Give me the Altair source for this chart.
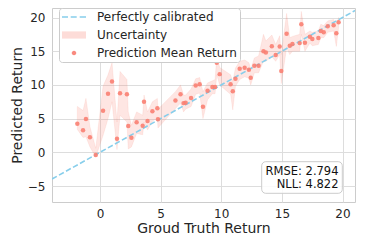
import altair as alt
import pandas as pd

# ---- data ----
truth = [-1.87, -1.40, -1.16, -0.83, -0.35, 0.25, 0.66, 0.99, 1.40, 1.65, 2.22, 2.33, 2.59,
         3.02, 3.52, 3.63, 3.92, 4.32, 4.73, 4.78, 6.22, 6.64, 6.89, 7.06, 7.51, 7.89, 8.22,
         8.49, 8.87, 9.27, 9.49, 9.63, 9.87, 10.77, 10.95, 11.17, 11.52, 11.93, 12.28, 12.43,
         12.73, 13.08, 13.48, 13.68, 14.17, 14.49, 14.82, 14.95, 15.39, 15.65, 15.87, 16.47,
         16.60, 16.90, 17.31, 17.51, 18.01, 18.21, 18.45, 18.78, 19.27, 19.49, 19.68]
pred_mean = [4.24, 3.26, 4.94, 2.22, -0.40, 6.17, 8.70, 10.50, 2.00, 8.75, 8.60, 3.90, 2.17,
             4.45, 3.95, 7.50, 4.64, 6.08, 6.53, 4.90, 7.70, 8.62, 7.30, 7.35, 8.06, 9.90, 10.10,
             6.77, 9.14, 9.70, 9.70, 13.30, 11.60, 10.10, 9.05, 10.90, 12.40, 12.55, 12.26, 11.07,
             12.85, 12.85, 15.00, 14.80, 15.73, 14.44, 15.70, 12.06, 17.60, 15.80, 16.07, 16.20,
             19.00, 16.26, 17.15, 16.80, 16.96, 18.00, 17.80, 18.70, 18.84, 17.65, 19.30]
pred_low = [3.4, 2.2, 2.3, 0.8, -0.7, 2.5, 5.0, 7.5, 0.4, 5.5, 4.5, 0.5, 0.8,
            2.8, 2.6, 4.5, 3.3, 4.6, 5.2, 3.6, 6.5, 7.3, 6.0, 6.4, 6.8, 8.6, 8.8,
            5.0, 7.8, 8.7, 8.7, 11.5, 10.0, 8.6, 6.3, 9.8, 10.8, 11.2, 11.0, 10.0,
            11.8, 11.8, 13.5, 13.5, 14.2, 13.5, 14.5, 10.2, 15.5, 14.5, 15.0, 15.0,
            17.5, 15.0, 16.2, 15.8, 16.0, 17.0, 17.0, 17.8, 18.0, 15.7, 18.5]
pred_high = [6.8, 6.2, 8.0, 3.8, 0.6, 9.8, 11.5, 13.3, 4.5, 12.0, 10.8, 6.0, 4.0,
             6.0, 5.5, 8.5, 6.0, 7.5, 8.0, 6.4, 9.0, 10.0, 8.5, 8.5, 9.4, 10.9, 11.1,
             9.0, 10.3, 10.6, 10.8, 14.2, 12.6, 11.5, 10.5, 12.5, 13.5, 13.7, 13.3, 12.3,
             14.0, 14.3, 17.5, 16.5, 17.4, 16.0, 17.3, 14.5, 20.6, 17.0, 17.2, 17.5,
             20.9, 17.5, 18.0, 17.8, 18.0, 19.0, 18.8, 19.5, 19.7, 19.0, 20.0]

x_domain = [-3.96, 21.03]
y_domain = [-7.37, 21.41]
x_ticks = [0, 5, 10, 15, 20]
y_ticks = [-5, 0, 5, 10, 15, 20]
line_ends = [-3.96, 21.03]

legend_labels = ["Perfectly calibrated", "Uncertainty", "Prediction Mean Return"]
metrics_text = ["RMSE: 2.794", "NLL: 4.822"]

SALMON = "#fa8072"
SKY = "#87ceeb"
FONT = "DejaVu Sans"
TXT = "#262626"

df = pd.DataFrame({"truth": truth, "pred": pred_mean, "lo": pred_low, "hi": pred_high})
line_df = pd.DataFrame({"v": line_ends})
leg_df = pd.DataFrame({"series": legend_labels})
met_df = pd.DataFrame({"txt": ["\n".join(metrics_text)]})

xs = alt.Scale(domain=x_domain, nice=False, zero=False)
ys = alt.Scale(domain=y_domain, nice=False, zero=False)

x_axis = alt.Axis(values=x_ticks, title="Groud Truth Return", labelOverlap=False,
                  labelExpr="replace(datum.label, '-', '−')")
y_axis = alt.Axis(values=y_ticks, title="Predicted Return", labelOverlap=False,
                  labelExpr="replace(datum.label, '-', '−')")

band = alt.Chart(df).mark_area(
    fill=SALMON, fillOpacity=0.2, stroke=SALMON, strokeOpacity=0.15, strokeWidth=0.8,
    interpolate="linear"
).encode(
    x=alt.X("truth:Q", scale=xs, axis=x_axis),
    y=alt.Y("lo:Q", scale=ys, axis=y_axis),
    y2="hi:Q",
)

diag = alt.Chart(line_df).mark_line(
    color=SKY, strokeWidth=1.6, strokeDash=[5.5, 2.5], clip=True
).encode(
    x=alt.X("v:Q", scale=xs, axis=x_axis),
    y=alt.Y("v:Q", scale=ys, axis=y_axis),
)

pts = alt.Chart(df).mark_point(
    filled=True, color=SALMON, opacity=0.9, size=20
).encode(
    x=alt.X("truth:Q", scale=xs, axis=x_axis),
    y=alt.Y("pred:Q", scale=ys, axis=y_axis),
)

shapes = [
    "M-1,-0.13H0V0.13H-1Z M0.45,-0.13H1.45V0.13H0.45Z M1.95,-0.13H3V0.13H1.95Z",
    "M-1,-0.6H3V0.6H-1Z",
    "M0.62,0A0.38,0.38 0 1,0 1.38,0A0.38,0.38 0 1,0 0.62,0Z",
]
leg_colors = [SKY, "#fddcd8", "#f98a7f"]

legend = alt.Legend(
    title=None, orient="none", legendX=7, legendY=0,
    padding=3, labelOffset=23, rowPadding=6,
    symbolSize=144, symbolStrokeWidth=0, symbolOpacity=1,
    labelFont=FONT, labelFontSize=12, labelColor=TXT,
    fillColor="white", strokeColor="#cccccc", cornerRadius=3,
)

dummy = alt.Chart(leg_df).mark_point(filled=True, opacity=0).encode(
    color=alt.Color("series:N", sort=legend_labels,
                    scale=alt.Scale(domain=legend_labels, range=leg_colors), legend=legend),
    shape=alt.Shape("series:N", sort=legend_labels,
                    scale=alt.Scale(domain=legend_labels, range=shapes), legend=legend),
)

box = alt.Chart(met_df).mark_rect(
    fill="white", fillOpacity=0.85, stroke="#cccccc", strokeWidth=1, cornerRadius=4
).encode(
    x=alt.value(209.7), x2=alt.value(290.3), y=alt.value(153.7), y2=alt.value(185.3)
)

mtext = alt.Chart(met_df).mark_text(
    align="right", baseline="middle", lineBreak="\n", lineHeight=13,
    font=FONT, fontSize=11.5, color="#111111"
).encode(
    x=alt.value(286.5), y=alt.value(164.3), text="txt:N"
)

chart = alt.layer(band, diag, pts, dummy, box, mtext).properties(
    width=303, height=194,
    autosize=alt.AutoSizeParams(type="none"),
    padding={"left": 44, "top": 0, "right": 2, "bottom": 38},
).configure_axis(
    grid=True, gridColor="#dddddd", gridWidth=1, ticks=False, domain=False,
    labelOverlap=False,
    labelFont=FONT, labelFontSize=12, labelColor=TXT,
    titleFont=FONT, titleFontSize=14, titleColor=TXT, titleFontWeight="normal",
).configure_axisX(
    labelPadding=6, titlePadding=2,
).configure_axisY(
    labelPadding=7, titlePadding=3,
).configure_view(
    stroke="#cccccc", strokeWidth=1,
)

chart.save("out.html", embed_options={"renderer": "svg", "actions": False})
